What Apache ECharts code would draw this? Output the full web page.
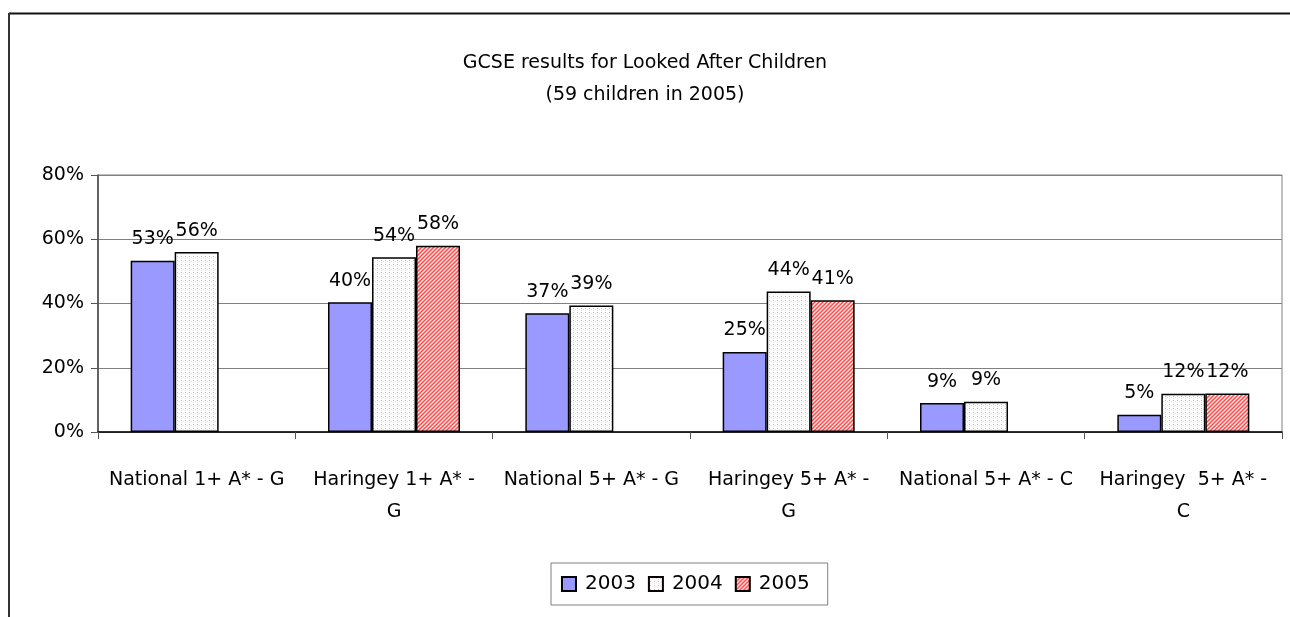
<!DOCTYPE html>
<html>
<head>
<meta charset="utf-8">
<script src="https://cdn.jsdelivr.net/npm/echarts@6/dist/echarts.min.js"></script>
<style>
  html, body { margin: 0; padding: 0; background: #fff; }
  #gcse-chart { width: 1290px; height: 617px; }
</style>
</head>
<body>
<div id="gcse-chart"></div>
<script>
// values
const categories = [
  'National 1+ A* - G',
  'Haringey 1+ A* -\nG',
  'National 5+ A* - G',
  'Haringey 5+ A* -\nG',
  'National 5+ A* - C',
  'Haringey  5+ A* -\nC'
]
const years = ['2003', '2004', '2005']
const values2003 = [53.3, 40.4, 37, 24.9, 9, 5.4]
const values2004 = [56, 54.4, 39.4, 43.7, 9.4, 11.9]
const values2005 = [null, 58, null, 41, null, 12]
const yTicks = [0, 20, 40, 60, 80]

const FONT = "'Comic Sans MS', 'DejaVu Sans', sans-serif"

// small tiles used as fill patterns
function makeTile(size, paint) {
  const c = document.createElement('canvas')
  c.width = size
  c.height = size
  const ctx = c.getContext('2d')
  paint(ctx)
  return c
}

const dotTile = makeTile(4, ctx => {
  ctx.fillStyle = '#ffffff'
  ctx.fillRect(0, 0, 4, 4)
  ctx.fillStyle = '#e3a6c0'
  ctx.fillRect(1, 0, 1, 1)
  ctx.fillStyle = '#f5dbe6'
  ctx.fillRect(1, 2, 1, 1)
  ctx.fillRect(3, 1, 1, 1)
})

const hatchTile = makeTile(4, ctx => {
  ctx.fillStyle = '#ff9292'
  ctx.fillRect(0, 0, 4, 4)
  ctx.fillStyle = '#ff4a4a'
  for (let i = 0; i < 4; i++) ctx.fillRect(i, (4 - i) % 4, 1, 1)
  ctx.fillStyle = '#ffe6e6'
  for (let i = 0; i < 4; i++) ctx.fillRect(i, (6 - i) % 4, 1, 1)
})

const fills = [
  '#9999ff',
  { image: dotTile, repeat: 'repeat' },
  { image: hatchTile, repeat: 'repeat' }
]
const seriesValues = [values2003, values2004, values2005]

const chart = echarts.init(document.getElementById('gcse-chart'))

chart.setOption({
  animation: false,
  textStyle: { fontFamily: FONT, color: '#000' },
  title: {
    text: 'GCSE results for Looked After Children\n(59 children in 2005)',
    left: 'center',
    top: 42,
    textStyle: {
      fontFamily: FONT,
      fontSize: 19,
      fontWeight: 'normal',
      lineHeight: 32,
      color: '#000'
    }
  },
  legend: {
    data: years,
    left: 551,
    top: 563,
    padding: [11, 18, 11, 10],
    borderColor: '#808080',
    borderWidth: 1,
    itemWidth: 14,
    itemHeight: 14,
    itemGap: 12,
    icon: 'rect',
    textStyle: { fontFamily: FONT, fontSize: 20, color: '#000', padding: [0, 0, 0, 4] }
  },
  grid: {
    left: 98,
    right: 8,
    top: 175,
    bottom: 185,
    show: true,
    borderColor: '#808080',
    borderWidth: 1
  },
  xAxis: {
    type: 'category',
    data: categories,
    axisLine: { lineStyle: { color: '#000', width: 1.5 } },
    axisTick: { show: true, length: 7, lineStyle: { color: '#555' } },
    axisLabel: {
      fontFamily: FONT,
      fontSize: 19,
      color: '#000',
      margin: 32,
      lineHeight: 32,
      interval: 0
    }
  },
  yAxis: {
    type: 'value',
    min: 0,
    max: 80,
    interval: 20,
    axisLine: { show: true, lineStyle: { color: '#444', width: 1.5 } },
    axisTick: { show: true, length: 7, inside: false, lineStyle: { color: '#555' } },
    axisLabel: {
      fontFamily: FONT,
      fontSize: 19,
      color: '#000',
      margin: 14,
      formatter: v => (yTicks.includes(v) ? v + '%' : '')
    },
    splitLine: { lineStyle: { color: '#808080', width: 1 } }
  },
  series: years.map((year, i) => ({
    name: year,
    type: 'bar',
    data: seriesValues[i],
    barWidth: 44,
    barGap: '0%',
    itemStyle: {
      color: fills[i],
      borderColor: '#000',
      borderWidth: 1.5
    },
    label: {
      show: true,
      position: 'top',
      distance: 12,
      fontFamily: FONT,
      fontSize: 19,
      color: '#000',
      formatter: p => Math.round(p.value) + '%'
    }
  })),
  graphic: [
    {
      type: 'line',
      shape: { x1: 9, y1: 13.5, x2: 1290, y2: 13.5 },
      style: { stroke: '#111', lineWidth: 2 }
    },
    {
      type: 'line',
      shape: { x1: 9, y1: 13, x2: 9, y2: 617 },
      style: { stroke: '#333', lineWidth: 2 }
    }
  ]
})
</script>
</body>
</html>
